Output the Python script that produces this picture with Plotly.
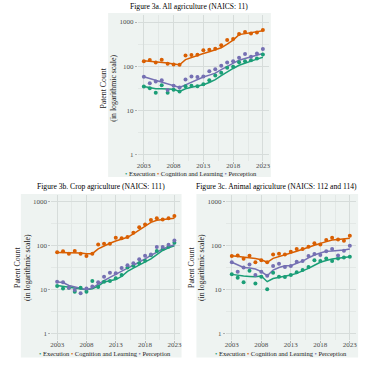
import plotly.graph_objects as go

years = list(range(2003, 2024))
series_names = ["Execution", "Cognition and Learning", "Perception"]
colors = ["#1b9e77", "#d95f02", "#7570b3"]

titles = ["Figure 3a. All agriculture (NAICS: 11)",
          "Figure 3b. Crop agriculture (NAICS: 111)",
          "Figure 3c. Animal agriculture (NAICS: 112 and 114)"]

x_ticks = [2003, 2008, 2013, 2018, 2023]
y_ticks = [1, 10, 100, 1000]
y_tick_labels = ["1", "10", "100", "1000"]

# ---- Figure 3a: All agriculture ----
all_exec = [35, 31.6, 25, 37, 25, 29.5, 27, 35.5, 36, 35.5, 39, 48, 62, 71, 92, 97, 123, 130, 137, 149, 184]
all_cog = [130, 138, 121, 140, 114, 110, 108, 175, 180, 182, 230, 235, 250, 300, 390, 411, 534, 593, 552, 582, 658]
all_perc = [58, 41, 45, 48, 29, 36, 33, 50, 59, 57, 59, 77, 85, 103, 121, 129, 155, 190, 163, 194, 247]
all_exec_fit = [35, 33, 31, 31, 30.5, 30, 27, 31, 33.5, 36, 38, 43, 50, 61, 75, 89, 105, 118, 130, 145, 160]
all_cog_fit = [133, 130, 127, 123, 118, 113, 108, 141, 158, 176, 194, 212, 232, 261, 315, 390, 520, 550, 580, 605, 632]
all_perc_fit = [58, 53, 48, 44, 39, 36, 33, 38, 44, 50, 57, 63, 70, 84, 100, 118, 137, 150, 163, 178, 194]

# ---- Figure 3b: Crop agriculture ----
crop_exec = [12.1, 10.7, 11.1, 9.0, 11.1, 9.0, 15.7, 11.5, 15.2, 15.7, 18.1, 21.5, 32, 35, 40, 45.6, 61, 76, 84, 95, 117]
crop_cog = [70.6, 74.5, 66, 76, 66, 58, 66, 107, 111, 111, 152, 147, 157, 197, 261, 305, 383, 418, 395, 418, 472]
crop_perc = [15.2, 14.7, 11.1, 9.8, 8.3, 10.7, 11.9, 14.7, 19.7, 24.3, 23.5, 31, 36, 40, 49, 59, 63.5, 93, 93, 105, 132]
crop_exec_fit = [12.5, 12, 11.5, 11, 10.5, 10, 10.5, 12, 15, 16, 17, 20, 26, 31, 36, 42, 50, 63, 78, 90, 100]
crop_cog_fit = [70, 70, 69, 69, 68, 66, 66, 85, 100, 114, 128, 141, 155, 185, 227, 280, 340, 380, 395, 408, 420]
crop_perc_fit = [15, 14.5, 12.5, 11.5, 10.5, 10, 11, 13, 16, 19, 22.5, 27, 31, 36, 42, 50, 60, 72, 84, 95, 105]

# ---- Figure 3c: Animal agriculture ----
ani_exec = [22.3, 18.7, 14.7, 27, 13.9, 19.7, 10.2, 24.3, 19.7, 19.4, 21.5, 24.8, 28, 33, 47, 44.7, 51.5, 44.7, 51.5, 54, 56]
ani_cog = [58, 60, 50.5, 59, 42, 47, 42, 63.5, 66, 63.5, 73, 84, 84, 95, 113, 107, 134, 152, 139, 130, 169]
ani_perc = [42, 25.7, 32, 37.6, 21.5, 25.7, 20.8, 34.5, 39, 33, 34.5, 43, 44.7, 58, 64.5, 61.5, 75, 84, 60, 77, 100]
ani_exec_fit = [22.3, 21.2, 20.4, 20, 19.7, 20.4, 15.2, 18, 19, 19.7, 21.5, 23.5, 26.5, 30.5, 36, 42, 46, 50, 52, 54, 56]
ani_cog_fit = [59, 57, 55.5, 54, 51, 48, 42, 51.5, 56, 61.5, 68, 75, 84, 93, 102, 113, 124, 134, 138, 143, 147]
ani_perc_fit = [42, 36, 32, 31, 29.5, 25.7, 20.8, 28, 32, 35, 35, 40, 44.7, 53, 61.5, 68, 75, 76, 77, 80, 84]

panels = [
    dict(points=[all_exec, all_cog, all_perc], fits=[all_exec_fit, all_cog_fit, all_perc_fit]),
    dict(points=[crop_exec, crop_cog, crop_perc], fits=[crop_exec_fit, crop_cog_fit, crop_perc_fit]),
    dict(points=[ani_exec, ani_cog, ani_perc], fits=[ani_exec_fit, ani_cog_fit, ani_perc_fit]),
]

W, H = 375, 367
BG = "#EEF3F1"
GRID = "#D6DCDA"
MINOR = "#E3E8E6"
FONT = "Liberation Serif, Times New Roman, serif"

# layout geometry in pixels: plot area (left, right, top, bottom), box, title/legend centers
geom = [
    dict(plot=(138, 270, 15.4, 161.3), box=(108, 272, 13, 177), title=(190, 7), legend=(192, 173.5)),
    dict(plot=(50.7, 180.7, 195.1, 340.3), box=(20, 182, 194, 357.5), title=(101, 186.5), legend=(105, 353.5)),
    dict(plot=(226.7, 357.6, 195.1, 340.3), box=(197, 360, 194, 357.5), title=(278, 186.5), legend=(282, 353.5)),
]

def px(x):
    return x / W

def py(y):
    return 1 - y / H

fig = go.Figure()
shapes = []
annotations = []

for i, (panel, g) in enumerate(zip(panels, geom)):
    xa = "x" if i == 0 else f"x{i+1}"
    ya = "y" if i == 0 else f"y{i+1}"
    for s in range(3):
        fig.add_trace(go.Scatter(x=years, y=panel["fits"][s], mode="lines",
                                 line=dict(color=colors[s], width=1.5),
                                 xaxis=xa, yaxis=ya, showlegend=False, hoverinfo="skip"))
    for s in range(3):
        fig.add_trace(go.Scatter(x=years, y=panel["points"][s], mode="markers",
                                 marker=dict(color=colors[s], size=4),
                                 name=series_names[s], xaxis=xa, yaxis=ya, showlegend=False))
    l, r, t, b = g["plot"]
    axkey = "xaxis" if i == 0 else f"xaxis{i+1}"
    aykey = "yaxis" if i == 0 else f"yaxis{i+1}"
    fig.update_layout(**{
        axkey: dict(domain=[px(l), px(r)], range=[2002, 2024], anchor=ya,
                    tickvals=x_ticks, ticktext=[str(v) for v in x_ticks],
                    showgrid=True, gridcolor=GRID, gridwidth=0.8, zeroline=False,
                    ticks="outside", ticklen=2, tickcolor="#B0B0B0",
                    ticklabelstandoff=-5,
                    tickfont=dict(family=FONT, size=7, color="#4d4d4d"),
                    minor=dict(tickvals=[2005.5, 2010.5, 2015.5, 2020.5], showgrid=True,
                               gridcolor=MINOR, gridwidth=0.6, ticks=""),
                    showline=False, fixedrange=True),
        aykey: dict(domain=[py(b), py(t)], type="log", range=[-0.15, 3.15], anchor=xa,
                    tickvals=y_ticks, ticktext=y_tick_labels,
                    showgrid=True, gridcolor=GRID, gridwidth=0.8, zeroline=False,
                    ticks="outside", ticklen=2, tickcolor="#B0B0B0",
                    tickfont=dict(family=FONT, size=7, color="#4d4d4d"),
                    minor=dict(tickvals=[10 ** 0.5, 10 ** 1.5, 10 ** 2.5], showgrid=True,
                               gridcolor=MINOR, gridwidth=0.6, ticks=""),
                    title=dict(text="Patent Count<br>(in logarithmic scale)",
                               font=dict(family=FONT, size=7.8, color="#1a1a1a"), standoff=1),
                    showline=False, fixedrange=True),
    })
    bl, br, bt, bb = g["box"]
    shapes.append(dict(type="rect", xref="paper", yref="paper",
                       x0=px(bl), x1=px(br), y0=py(bb), y1=py(bt),
                       fillcolor=BG, line=dict(width=0), layer="below"))
    tx, ty = g["title"]
    annotations.append(dict(text=titles[i], x=px(tx), y=py(ty), xref="paper", yref="paper",
                            showarrow=False, xanchor="center", yanchor="middle",
                            font=dict(family=FONT, size=7.6, color="#000000")))
    lx, ly = g["legend"]
    leg = "&nbsp;".join(
        f'<span style="color:{colors[s]}">\u2022</span> {series_names[s]}' for s in range(3))
    annotations.append(dict(text=leg, x=px(lx), y=py(ly), xref="paper", yref="paper",
                            showarrow=False, xanchor="center", yanchor="middle",
                            font=dict(family=FONT, size=6.5, color="#1a1a1a")))

fig.update_layout(width=W, height=H, margin=dict(l=0, r=0, t=0, b=0),
                  paper_bgcolor="white", plot_bgcolor=BG, showlegend=False,
                  shapes=shapes, annotations=annotations)

fig.write_html("out.html", config={"displayModeBar": False},
               post_script="document.body.style.margin='0';"
                           "document.documentElement.style.overflow='hidden';")
